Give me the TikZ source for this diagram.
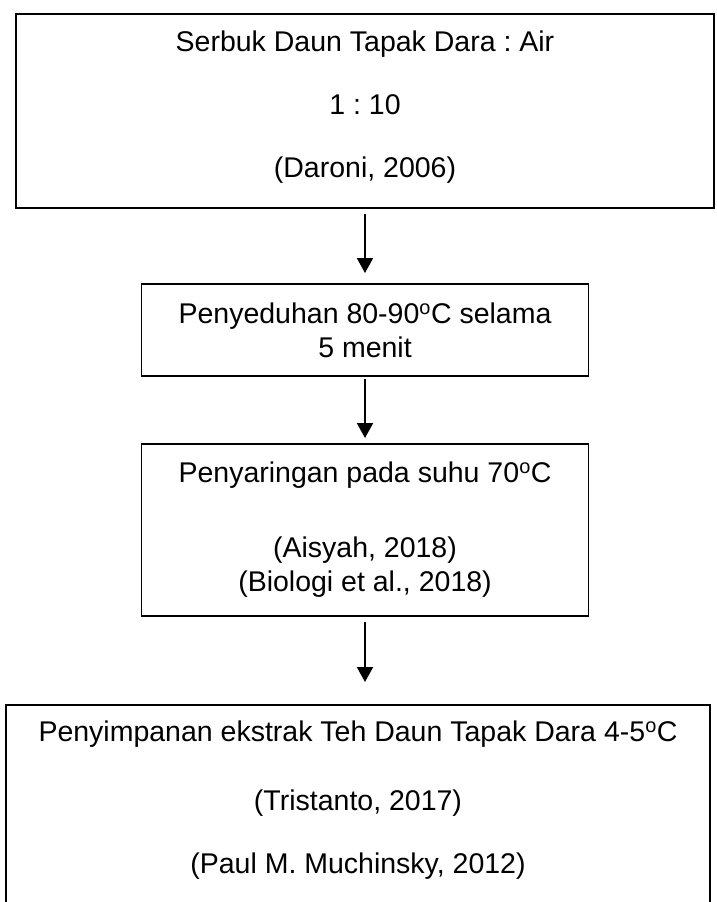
\documentclass[tikz,border=0pt]{standalone}
\usepackage{fontspec}
\setmainfont{Liberation Sans}
\usetikzlibrary{arrows.meta}
\newcommand{\dgr}{\textsuperscript{o}}
\newcommand{\lowstrut}[1]{\rule[-#1]{0pt}{#1}}
\frenchspacing

\begin{document}
\begin{tikzpicture}[x=1pt,y=-1pt,
  box/.style={draw,line width=1.8pt,inner sep=0pt,align=center,anchor=north,
              font=\fontsize{28.5pt}{34pt}\selectfont},
  flow/.style={-{Triangle[length=15pt,width=16pt]},line width=2pt}]
\useasboundingbox (0,0) rectangle (716,902);
\clip (0,0) rectangle (716,902);
\node[box,minimum width=698pt,minimum height=194pt] (serbuk) at (365,13)
  {Serbuk Daun Tapak Dara : Air\\[29pt]
   1 : 10\\[29pt]
   (Daroni, 2006)\lowstrut{13pt}};
\node[box,minimum width=447pt,minimum height=92pt] (seduh) at (365,283)
  {Penyeduhan 80-90\dgr C selama\\
   5 menit};
\node[box,minimum width=447pt,minimum height=172pt] (saring) at (365,443)
  {Penyaringan pada suhu 70\dgr C\\[41pt]
   (Aisyah, 2018)\\
   (Biologi et al., 2018)};
\node[box,minimum width=704pt,minimum height=240pt] (simpan) at (358,704)
  {Penyimpanan ekstrak Teh Daun Tapak Dara 4-5\dgr C\\[35pt]
   (Tristanto, 2017)\\[29pt]
   (Paul M. Muchinsky, 2012)\lowstrut{55pt}};
\draw[flow,shorten <=5pt,shorten >=10pt] (serbuk.south) -- (seduh.north);
\draw[flow,shorten <=2pt,shorten >=5pt] (seduh.south) -- (saring.north);
\draw[flow,shorten <=5pt,shorten >=22pt] (saring.south) -- (simpan.north -| saring.south);
\end{tikzpicture}
\end{document}
